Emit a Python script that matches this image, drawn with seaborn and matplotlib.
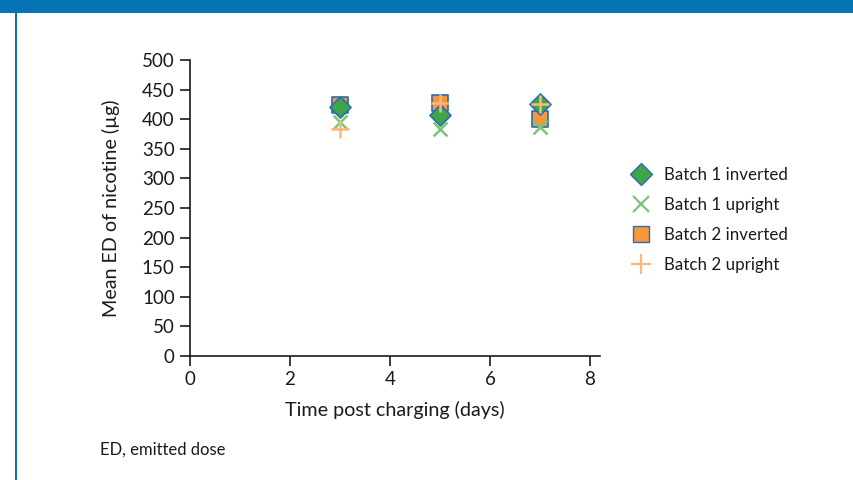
import matplotlib
matplotlib.use("Agg")
import matplotlib.pyplot as plt
import seaborn as sns
import pandas as pd
from matplotlib.patches import Rectangle
from matplotlib.lines import Line2D

days = [3, 5, 7]
batch1_inverted = [421, 407, 425]
batch1_upright = [396, 384, 387]
batch2_inverted = [424, 428, 400]
batch2_upright = [383, 427, 425]
series_names = ["Batch 1 inverted", "Batch 1 upright", "Batch 2 inverted", "Batch 2 upright"]

sns.set_style("white")
plt.rcParams['font.family'] = ['Lato', 'DejaVu Sans']

fig = plt.figure(figsize=(8.54, 4.8), dpi=100)
ax = fig.add_axes([190/854, 1-356/480, 410/854, 296/480])

styles = {
    "Batch 1 inverted": dict(marker="D", color="#3fa548", edgecolor="#2a6db5", s=115, linewidth=1.2, zorder=4),
    "Batch 1 upright": dict(marker="x", color="#7cc47a", s=100, linewidth=1.8, zorder=3),
    "Batch 2 inverted": dict(marker="s", color="#f7963a", edgecolor="#2a6db5", s=140, linewidth=1.2, zorder=2),
    "Batch 2 upright": dict(marker="+", color="#fbb879", s=180, linewidth=1.8, zorder=5),
}
values = [batch1_inverted, batch1_upright, batch2_inverted, batch2_upright]
draw_order = ["Batch 2 inverted", "Batch 1 upright", "Batch 1 inverted", "Batch 2 upright"]
data = {n: v for n, v in zip(series_names, values)}
for name in draw_order:
    df = pd.DataFrame({"day": days, "ed": data[name]})
    st = styles[name]
    kw = dict(marker=st["marker"], s=st["s"], zorder=st["zorder"], linewidth=st["linewidth"])
    if "edgecolor" in st:
        kw["facecolor"] = st["color"]
        kw["edgecolor"] = st["edgecolor"]
    else:
        kw["color"] = st["color"]
    sns.scatterplot(data=df, x="day", y="ed", ax=ax, legend=False, **kw)

ax.set_xlim(0, 8.2)
ax.set_ylim(0, 500)
ax.set_xticks([0, 2, 4, 6, 8])
ax.set_yticks(range(0, 501, 50))
for sp in ["top", "right"]:
    ax.spines[sp].set_visible(False)
for sp in ["left", "bottom"]:
    ax.spines[sp].set_color("#1a1a1a")
    ax.spines[sp].set_linewidth(1.2)
ax.tick_params(axis="both", direction="out", length=7, width=1.2, color="#1a1a1a",
               labelsize=13.5, labelcolor="#1a1a1a", left=True, bottom=True, pad=4)
ax.set_xlabel("Time post charging (days)", fontsize=14.2, color="#1a1a1a", labelpad=9)
ax.set_ylabel("Mean ED of nicotine (µg)", fontsize=14.2, color="#1a1a1a", labelpad=16)
ax.spines["left"].set_zorder(1)
ax.spines["bottom"].set_zorder(1)

handles = []
for name in series_names:
    st = styles[name]
    if "edgecolor" in st:
        h = Line2D([], [], linestyle="none", marker=st["marker"], markerfacecolor=st["color"],
                   markeredgecolor=st["edgecolor"], markersize=11 if st["marker"] == "D" else 11,
                   markeredgewidth=1.0)
    else:
        h = Line2D([], [], linestyle="none", marker=st["marker"], color=st["color"],
                   markersize=11 if st["marker"] == "x" else 14, markeredgewidth=1.6)
    handles.append(h)
leg = fig.legend(handles, series_names, loc="upper left", bbox_to_anchor=(622/854, 1-160/480),
                 frameon=False, fontsize=12.2, labelspacing=0.83, handletextpad=0.65,
                 handlelength=1.4, borderaxespad=0)
for t in leg.get_texts():
    t.set_color("#1a1a1a")

fig.text(100/854, 1-450/480, "ED, emitted dose", fontsize=12, color="#1a1a1a", va="center")

fig.patches.append(Rectangle((0, 1-13/480), 1, 13/480, transform=fig.transFigure,
                             facecolor="#0673b4", edgecolor="none", zorder=10))
fig.patches.append(Rectangle((15.5/854, 0), 2/854, 1-13/480, transform=fig.transFigure,
                             facecolor="#0673b4", edgecolor="none", zorder=10))

fig.savefig("out.png", dpi=100)
